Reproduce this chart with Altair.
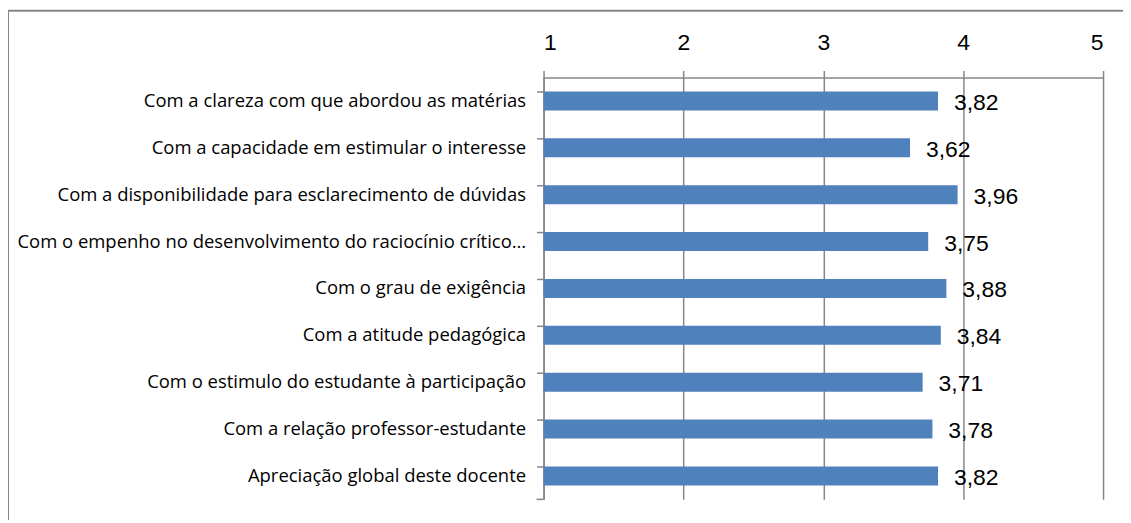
import altair as alt
import pandas as pd

categories = [
    "Com a clareza com que abordou as matérias",
    "Com a capacidade em estimular o interesse",
    "Com a disponibilidade para esclarecimento de dúvidas",
    "Com o empenho no desenvolvimento do raciocínio crítico…",
    "Com o grau de exigência",
    "Com a atitude pedagógica",
    "Com o estimulo do estudante à participação",
    "Com a relação professor-estudante",
    "Apreciação global deste docente",
]
values = [3.82, 3.62, 3.96, 3.75, 3.88, 3.84, 3.71, 3.78, 3.82]
x_ticks = [1, 2, 3, 4, 5]

df = pd.DataFrame({"cat": categories, "val": values})

GRID = "#868686"
W, H = 561, 423
PL, PT = 537, 69

base = alt.Chart(df)

bars = base.mark_bar(color="#4F81BD", size=19).encode(
    y=alt.Y(
        "cat:N",
        sort=None,
        title=None,
        scale=alt.Scale(paddingInner=0.6, paddingOuter=0.3),
        axis=alt.Axis(
            orient="left",
            bandPosition=0,
            domainColor=GRID,
            domainWidth=1.5,
            tickColor=GRID,
            tickWidth=1.5,
            tickSize=7,
            labelPadding=11,
            labelFont="Open Sans",
            labelFontSize=18.5,
            labelColor="#000000",
            labelLimit=600,
            grid=False,
        ),
    ),
    x=alt.X(
        "val:Q",
        title=None,
        scale=alt.Scale(domain=[1, 5], nice=False, zero=False),
        axis=alt.Axis(
            orient="top",
            values=x_ticks,
            format="d",
            domainColor=GRID,
            domainWidth=1.5,
            tickColor=GRID,
            tickWidth=1.5,
            tickSize=7,
            grid=True,
            gridColor=GRID,
            gridWidth=1.5,
            labelPadding=16,
            labelFont="Liberation Sans",
            labelFontSize=23,
            labelColor="#000000",
        ),
    ),
    x2=alt.datum(1),
)

labels = base.transform_calculate(
    lab="replace(format(datum.val, '.2f'), '.', ',')"
).mark_text(
    align="left", baseline="middle", dx=16, dy=2,
    font="Liberation Sans", fontSize=23, color="#000000"
).encode(
    y=alt.Y("cat:N", sort=None),
    x=alt.X("val:Q"),
    text="lab:N",
)

bottom_tick = alt.Chart(pd.DataFrame({"a": [0]})).mark_rule(
    color=GRID, strokeWidth=1.5
).encode(x=alt.value(-7), x2=alt.value(0), y=alt.value(H))

frame_left = alt.Chart(pd.DataFrame({"a": [0]})).mark_rule(
    color=GRID, strokeWidth=2
).encode(x=alt.value(-PL), y=alt.value(-67), y2=alt.value(H + 60))

frame_top = alt.Chart(pd.DataFrame({"a": [0]})).mark_rule(
    color=GRID, strokeWidth=2
).encode(x=alt.value(-PL), x2=alt.value(W + 60), y=alt.value(-67))

chart = alt.layer(bars, labels, bottom_tick, frame_left, frame_top).properties(
    width=W,
    height=H,
    autosize=alt.AutoSizeParams(type="none"),
    padding={"left": PL, "top": PT, "right": 20, "bottom": 20},
    background="white",
).configure_view(stroke=None)

chart.save("out.html", embed_options={"renderer": "svg", "actions": False})
